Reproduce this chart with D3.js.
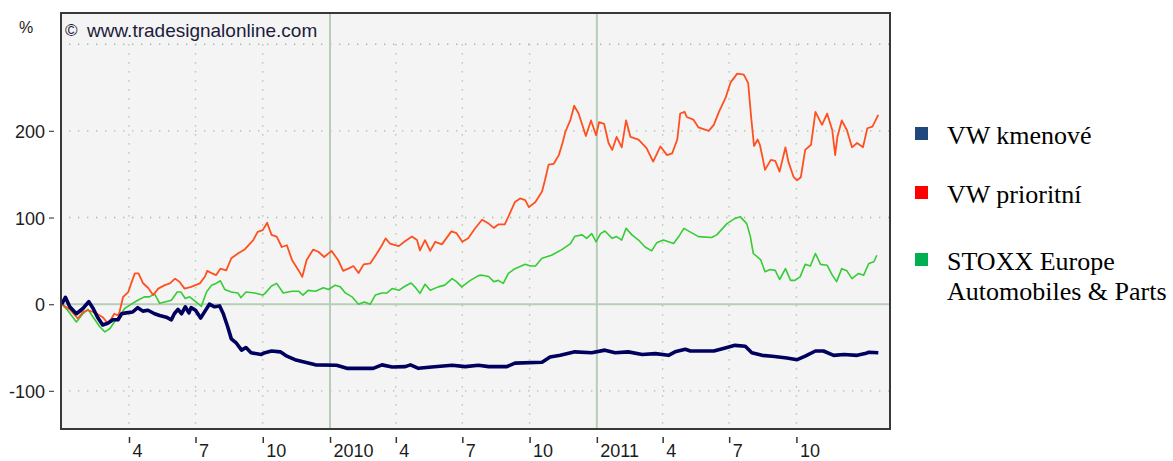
<!DOCTYPE html>
<html>
<head>
<meta charset="utf-8">
<script src="https://cdn.jsdelivr.net/npm/d3@7"></script>
<style>
  body { margin: 0; background: #fff; }
  svg { display: block; }
  .axis text { font-family: 'Liberation Sans', Arial, sans-serif; font-size: 18px; fill: #1c1c1c; }
  .legend text { font-family: 'Liberation Serif', 'Times New Roman', serif; font-size: 26px; fill: #000; }
</style>
</head>
<body>
<svg id="chart" width="1173" height="461"></svg>
<script>
// Series values in % (date, change since start)
const vwKmenove = [
  ['2008-12-30', 0], ['2009-01-04', 8], ['2009-01-10', -3], ['2009-01-19', -11], ['2009-01-28', -5],
  ['2009-02-05', 3], ['2009-02-11', -5], ['2009-02-17', -15], ['2009-02-24', -24], ['2009-03-03', -22],
  ['2009-03-10', -18], ['2009-03-17', -18], ['2009-03-22', -11], ['2009-03-28', -10], ['2009-04-06', -9],
  ['2009-04-13', -4], ['2009-04-20', -8], ['2009-04-27', -7], ['2009-05-06', -11], ['2009-05-13', -13],
  ['2009-05-22', -15], ['2009-05-29', -18], ['2009-06-02', -11], ['2009-06-07', -6], ['2009-06-12', -11],
  ['2009-06-17', -3], ['2009-06-22', -10], ['2009-06-25', -4], ['2009-07-01', -7], ['2009-07-08', -16],
  ['2009-07-14', -8], ['2009-07-20', 0], ['2009-07-27', -3], ['2009-08-03', -2], ['2009-08-08', -11],
  ['2009-08-14', -26], ['2009-08-19', -40], ['2009-08-26', -45], ['2009-09-02', -53], ['2009-09-08', -50],
  ['2009-09-15', -56], ['2009-09-29', -58], ['2009-10-04', -56], ['2009-10-13', -54], ['2009-10-25', -55],
  ['2009-11-03', -60], ['2009-11-14', -64], ['2009-11-28', -67], ['2009-12-12', -70], ['2010-01-10', -70.5],
  ['2010-01-24', -74], ['2010-03-01', -74], ['2010-03-13', -70], ['2010-03-27', -72.5], ['2010-04-14', -72],
  ['2010-04-21', -70], ['2010-05-02', -74], ['2010-05-20', -72.5], ['2010-06-17', -70.5], ['2010-07-05', -72],
  ['2010-07-23', -70.5], ['2010-08-06', -72], ['2010-08-31', -72], ['2010-09-11', -68], ['2010-10-18', -67],
  ['2010-10-29', -61], ['2010-11-12', -59], ['2010-12-02', -55], ['2010-12-25', -56], ['2011-01-12', -53],
  ['2011-01-26', -56], ['2011-02-13', -55], ['2011-03-04', -58], ['2011-03-22', -57], ['2011-04-09', -59],
  ['2011-04-18', -55], ['2011-05-02', -52], ['2011-05-09', -54], ['2011-06-10', -54], ['2011-06-23', -51],
  ['2011-07-09', -47.5], ['2011-07-23', -48.5], ['2011-08-01', -56], ['2011-08-15', -59], ['2011-08-29', -60],
  ['2011-09-18', -62], ['2011-10-02', -64], ['2011-10-13', -60], ['2011-10-27', -54], ['2011-11-07', -54],
  ['2011-11-21', -59], ['2011-12-05', -58], ['2011-12-23', -59], ['2012-01-03', -57], ['2012-01-08', -55.5],
  ['2012-01-21', -56]
];

const vwPrioritni = [
  ['2008-12-30', 0], ['2009-01-10', -6], ['2009-01-21', -16.5], ['2009-01-28', -9], ['2009-02-04', -7],
  ['2009-02-11', -9], ['2009-02-17', -11.5], ['2009-02-24', -15], ['2009-03-03', -22], ['2009-03-08', -16.5],
  ['2009-03-12', -11], ['2009-03-17', -13], ['2009-03-19', -9], ['2009-03-24', 8.5], ['2009-03-31', 14],
  ['2009-04-04', 24], ['2009-04-09', 35.5], ['2009-04-14', 35.5], ['2009-04-20', 24.5], ['2009-04-27', 19],
  ['2009-05-04', 10.5], ['2009-05-11', 18], ['2009-05-20', 22], ['2009-05-27', 24], ['2009-06-03', 29.5],
  ['2009-06-09', 26], ['2009-06-16', 18], ['2009-06-25', 20], ['2009-07-07', 24], ['2009-07-14', 32],
  ['2009-07-17', 38.5], ['2009-07-24', 35.5], ['2009-07-29', 33.5], ['2009-08-04', 41], ['2009-08-12', 39],
  ['2009-08-19', 53], ['2009-08-28', 58.5], ['2009-09-06', 63], ['2009-09-18', 74], ['2009-09-24', 83.5],
  ['2009-10-01', 85.5], ['2009-10-07', 94], ['2009-10-13', 80], ['2009-10-20', 78], ['2009-10-27', 66],
  ['2009-11-03', 68], ['2009-11-10', 51], ['2009-11-19', 39], ['2009-11-24', 31.5], ['2009-11-30', 51],
  ['2009-12-09', 63], ['2009-12-16', 60.5], ['2009-12-24', 54.5], ['2010-01-03', 61.5], ['2010-01-12', 51],
  ['2010-01-19', 38.5], ['2010-01-26', 41], ['2010-02-02', 44], ['2010-02-09', 36], ['2010-02-16', 46],
  ['2010-02-25', 47], ['2010-03-06', 58.5], ['2010-03-13', 68], ['2010-03-18', 76], ['2010-03-24', 70],
  ['2010-04-05', 67], ['2010-04-14', 73], ['2010-04-23', 78], ['2010-04-30', 74], ['2010-05-04', 62],
  ['2010-05-11', 74], ['2010-05-18', 61.5], ['2010-05-25', 72], ['2010-06-03', 69], ['2010-06-16', 84],
  ['2010-06-23', 82], ['2010-07-01', 72], ['2010-07-09', 76], ['2010-07-18', 87], ['2010-07-28', 97.5],
  ['2010-08-06', 93], ['2010-08-13', 88], ['2010-08-19', 92], ['2010-08-28', 92], ['2010-09-02', 101],
  ['2010-09-11', 118], ['2010-09-18', 122], ['2010-09-25', 120], ['2010-09-30', 112], ['2010-10-09', 118],
  ['2010-10-18', 130], ['2010-10-22', 143], ['2010-10-27', 161], ['2010-11-03', 162], ['2010-11-10', 172],
  ['2010-11-15', 186], ['2010-11-19', 199], ['2010-11-26', 213], ['2010-12-01', 229], ['2010-12-07', 220],
  ['2010-12-12', 207], ['2010-12-17', 194], ['2010-12-24', 212], ['2010-12-31', 195], ['2011-01-04', 210],
  ['2011-01-11', 208], ['2011-01-17', 186], ['2011-01-22', 178], ['2011-01-28', 193], ['2011-02-04', 181],
  ['2011-02-10', 212], ['2011-02-16', 193], ['2011-02-27', 190], ['2011-03-10', 180], ['2011-03-19', 164.5],
  ['2011-03-29', 182], ['2011-04-07', 172], ['2011-04-14', 174], ['2011-04-21', 190], ['2011-04-25', 220],
  ['2011-05-01', 222], ['2011-05-04', 216], ['2011-05-13', 213], ['2011-05-20', 204], ['2011-06-03', 200],
  ['2011-06-10', 207], ['2011-06-17', 222], ['2011-06-26', 238], ['2011-07-03', 256], ['2011-07-12', 266],
  ['2011-07-21', 265], ['2011-07-27', 255], ['2011-07-31', 216.5], ['2011-08-04', 182.5], ['2011-08-09', 190],
  ['2011-08-12', 184], ['2011-08-16', 168], ['2011-08-19', 155], ['2011-08-27', 166.5], ['2011-09-02', 165.5],
  ['2011-09-08', 153], ['2011-09-16', 181], ['2011-09-20', 164.5], ['2011-09-27', 147], ['2011-10-02', 143],
  ['2011-10-07', 146.5], ['2011-10-13', 178], ['2011-10-21', 184], ['2011-10-27', 222], ['2011-11-05', 207],
  ['2011-11-12', 220], ['2011-11-19', 201], ['2011-11-23', 172], ['2011-11-26', 193], ['2011-12-02', 212],
  ['2011-12-09', 201], ['2011-12-16', 181], ['2011-12-23', 186], ['2011-12-31', 181], ['2012-01-06', 203],
  ['2012-01-13', 205], ['2012-01-21', 218.5]
];

const stoxxAuto = [
  ['2008-12-30', 0], ['2009-01-07', -7], ['2009-01-19', -20.5], ['2009-01-28', -11], ['2009-02-04', -6],
  ['2009-02-11', -15], ['2009-02-20', -26], ['2009-02-27', -32], ['2009-03-06', -28], ['2009-03-12', -20.5],
  ['2009-03-19', -14], ['2009-03-26', -5], ['2009-04-02', -1], ['2009-04-13', 4.5], ['2009-04-22', 8.5],
  ['2009-04-29', 8.5], ['2009-05-06', 12], ['2009-05-13', 1], ['2009-05-20', 2.5], ['2009-05-29', 4.5],
  ['2009-06-06', 14], ['2009-06-11', 14], ['2009-06-17', 6.5], ['2009-06-23', 8.5], ['2009-07-02', 2.5],
  ['2009-07-09', -2.5], ['2009-07-16', 14], ['2009-07-23', 22], ['2009-07-29', 24], ['2009-08-04', 27],
  ['2009-08-10', 17], ['2009-08-19', 14], ['2009-08-28', 13], ['2009-09-01', 7.5], ['2009-09-08', 14],
  ['2009-09-20', 13], ['2009-10-01', 10.5], ['2009-10-04', 12.5], ['2009-10-13', 21], ['2009-10-20', 24],
  ['2009-10-29', 13], ['2009-11-10', 15], ['2009-11-19', 15], ['2009-11-25', 10.5], ['2009-12-02', 16],
  ['2009-12-12', 15], ['2009-12-23', 19], ['2009-12-30', 17], ['2010-01-08', 22], ['2010-01-15', 20],
  ['2010-01-22', 13], ['2010-01-31', 8.5], ['2010-02-09', 0], ['2010-02-17', 2.5], ['2010-02-25', 0],
  ['2010-03-04', 10.5], ['2010-03-13', 13], ['2010-03-20', 13], ['2010-03-27', 18], ['2010-04-05', 16],
  ['2010-04-14', 21], ['2010-04-22', 24.5], ['2010-04-27', 20], ['2010-05-04', 12.5], ['2010-05-11', 23],
  ['2010-05-18', 16], ['2010-05-29', 20], ['2010-06-07', 22], ['2010-06-17', 29.5], ['2010-06-23', 26],
  ['2010-06-30', 20], ['2010-07-12', 27.5], ['2010-07-23', 33], ['2010-07-28', 33.5], ['2010-08-06', 32],
  ['2010-08-13', 26], ['2010-08-19', 27.5], ['2010-08-26', 24], ['2010-09-02', 35.5], ['2010-09-11', 41],
  ['2010-09-25', 46], ['2010-10-02', 44], ['2010-10-09', 44], ['2010-10-18', 53], ['2010-10-31', 56.5],
  ['2010-11-14', 63], ['2010-11-26', 70], ['2010-12-02', 78.5], ['2010-12-12', 80], ['2010-12-18', 76],
  ['2010-12-25', 81.5], ['2010-12-31', 72], ['2011-01-06', 81.5], ['2011-01-12', 84.5], ['2011-01-22', 76],
  ['2011-01-28', 78], ['2011-02-04', 74], ['2011-02-10', 87.5], ['2011-02-18', 80], ['2011-02-27', 74],
  ['2011-03-08', 66], ['2011-03-17', 61.5], ['2011-03-24', 71], ['2011-04-02', 74], ['2011-04-09', 72],
  ['2011-04-16', 70], ['2011-04-23', 78], ['2011-04-30', 87.5], ['2011-05-20', 78], ['2011-06-07', 77],
  ['2011-06-14', 80], ['2011-06-28', 93], ['2011-07-09', 99], ['2011-07-16', 101], ['2011-07-25', 93],
  ['2011-07-30', 78], ['2011-08-03', 58.5], ['2011-08-13', 51.5], ['2011-08-19', 37.5], ['2011-08-26', 40],
  ['2011-09-02', 39], ['2011-09-08', 28.5], ['2011-09-16', 41], ['2011-09-23', 27.5], ['2011-09-29', 27.5],
  ['2011-10-06', 31.5], ['2011-10-13', 46], ['2011-10-20', 44], ['2011-10-27', 58.5], ['2011-11-03', 46],
  ['2011-11-12', 45], ['2011-11-19', 33.5], ['2011-11-25', 26], ['2011-12-02', 41], ['2011-12-09', 38.5],
  ['2011-12-16', 29.5], ['2011-12-25', 35.5], ['2012-01-01', 33.5], ['2012-01-08', 47], ['2012-01-15', 49],
  ['2012-01-19', 56.5]
];

// Axis ticks
const yTicks = [-100, 0, 100, 200];
const yGrid = [-100, 100, 200, 300];
const xTicks = ['2009-04-01', '2009-07-01', '2009-10-01', '2010-01-01', '2010-04-01', '2010-07-01',
  '2010-10-01', '2011-01-01', '2011-04-01', '2011-07-01', '2011-10-01'];
const xTickLabels = ['4', '7', '10', '2010', '4', '7', '10', '2011', '4', '7', '10'];

// Legend
const legendLabels = [['VW kmenové'], ['VW prioritní'], ['STOXX Europe', 'Automobiles & Parts']];
const legendColors = ['#1f497d', '#ff0000', '#00b050'];

const parseDate = d3.timeParse('%Y-%m-%d');
const frame = {left: 61, right: 890, top: 13, bottom: 429};

const x = d3.scaleTime()
  .domain([parseDate('2008-12-29'), parseDate('2012-02-06')])
  .range([frame.left, frame.right]);

const y = d3.scaleLinear()
  .domain([-144, 336])
  .range([frame.bottom, frame.top]);

const svg = d3.select('#chart');

svg.append('defs').append('clipPath').attr('id', 'plot-clip')
  .append('rect')
    .attr('x', frame.left).attr('y', frame.top)
    .attr('width', frame.right - frame.left).attr('height', frame.bottom - frame.top);

// plot background
svg.append('rect')
  .attr('x', frame.left).attr('y', frame.top)
  .attr('width', frame.right - frame.left).attr('height', frame.bottom - frame.top)
  .attr('fill', '#f4f4f4');

const grid = svg.append('g').attr('clip-path', 'url(#plot-clip)');

// dotted horizontal grid
grid.selectAll('.hgrid').data(yGrid).enter().append('line')
  .attr('x1', frame.left + 8).attr('x2', frame.right)
  .attr('y1', d => y(d)).attr('y2', d => y(d))
  .attr('stroke', '#a3bfa3').attr('stroke-width', 1.4).attr('stroke-dasharray', '1.4 7.6');

// dotted vertical grid on quarters, solid on years
const quarterDates = xTicks.map(parseDate);
grid.selectAll('.vgrid').data(quarterDates.filter(d => d.getMonth() !== 0)).enter().append('line')
  .attr('x1', d => x(d)).attr('x2', d => x(d))
  .attr('y1', y(300)).attr('y2', frame.bottom)
  .attr('stroke', '#a3bfa3').attr('stroke-width', 1.4).attr('stroke-dasharray', '1.4 7.6');

grid.selectAll('.ygrid').data(quarterDates.filter(d => d.getMonth() === 0)).enter().append('line')
  .attr('x1', d => x(d)).attr('x2', d => x(d))
  .attr('y1', frame.top).attr('y2', frame.bottom)
  .attr('stroke', '#b8cdb8').attr('stroke-width', 2);

grid.append('line')
  .attr('x1', frame.left).attr('x2', frame.right)
  .attr('y1', y(0)).attr('y2', y(0))
  .attr('stroke', '#b8cdb8').attr('stroke-width', 2);

// watermark
svg.append('text')
  .attr('x', 65).attr('y', 36)
  .style('font-family', "'Liberation Sans', Arial, sans-serif").style('font-size', '17px')
  .attr('fill', '#1c1c3c')
  .text('©');

svg.append('text')
  .attr('x', 87).attr('y', 37)
  .style('font-family', "'Liberation Sans', Arial, sans-serif").style('font-size', '19px')
  .attr('fill', '#1c1c3c')
  .text('www.tradesignalonline.com');

// lines
const valueline = d3.line()
  .x(d => x(parseDate(d[0])))
  .y(d => y(d[1]));

const lines = svg.append('g').attr('clip-path', 'url(#plot-clip)');

lines.append('path').attr('d', valueline(stoxxAuto))
  .attr('fill', 'none').attr('stroke', '#35cc35').attr('stroke-width', 1.6).attr('stroke-linejoin', 'round');

lines.append('path').attr('d', valueline(vwPrioritni))
  .attr('fill', 'none').attr('stroke', '#ff5020').attr('stroke-width', 1.8).attr('stroke-linejoin', 'round');

lines.append('path').attr('d', valueline(vwKmenove))
  .attr('fill', 'none').attr('stroke', '#00005e').attr('stroke-width', 3.6).attr('stroke-linejoin', 'round');

// frame
svg.append('rect')
  .attr('x', frame.left).attr('y', frame.top)
  .attr('width', frame.right - frame.left).attr('height', frame.bottom - frame.top)
  .attr('fill', 'none').attr('stroke', '#383838').attr('stroke-width', 2);

// Y axis
const yAxis = d3.axisLeft(y)
  .tickValues(yTicks)
  .tickFormat(d => String(d))
  .tickSize(5)
  .tickPadding(4);

const yAxisG = svg.append('g').attr('class', 'axis')
  .attr('transform', 'translate(54,0)')
  .call(yAxis);
yAxisG.select('.domain').remove();
yAxisG.selectAll('.tick line').attr('stroke', '#555').attr('stroke-width', 1.3);
yAxisG.selectAll('.tick text').attr('dy', '0.36em');

svg.append('text').attr('class', 'axis')
  .attr('x', 19).attr('y', 33)
  .style('font-family', "'Liberation Sans', Arial, sans-serif").style('font-size', '16px')
  .attr('fill', '#1c1c1c')
  .text('%');

// X axis
const xAxis = d3.axisBottom(x)
  .tickValues(quarterDates)
  .tickFormat((d, i) => xTickLabels[i])
  .tickSize(6)
  .tickSizeOuter(0);

const xAxisG = svg.append('g').attr('class', 'axis')
  .attr('transform', 'translate(0,437)')
  .call(xAxis);
xAxisG.select('.domain').remove();
xAxisG.selectAll('.tick line').attr('stroke', '#333').attr('stroke-width', 1.5);
xAxisG.selectAll('.tick text')
  .attr('text-anchor', 'start')
  .attr('x', 3)
  .attr('y', 20)
  .attr('dy', 0);

// legend
const legend = svg.append('g').attr('class', 'legend');
const legendRows = [133, 192, 259];

legendLabels.forEach((lines, i) => {
  legend.append('rect')
    .attr('x', 915).attr('y', legendRows[i] - 6)
    .attr('width', 13).attr('height', 13)
    .attr('fill', legendColors[i]);

  lines.forEach((t, j) => {
    legend.append('text')
      .attr('x', 947)
      .attr('y', legendRows[i] + 11 + j * 30)
      .text(t);
  });
});
</script>
</body>
</html>
